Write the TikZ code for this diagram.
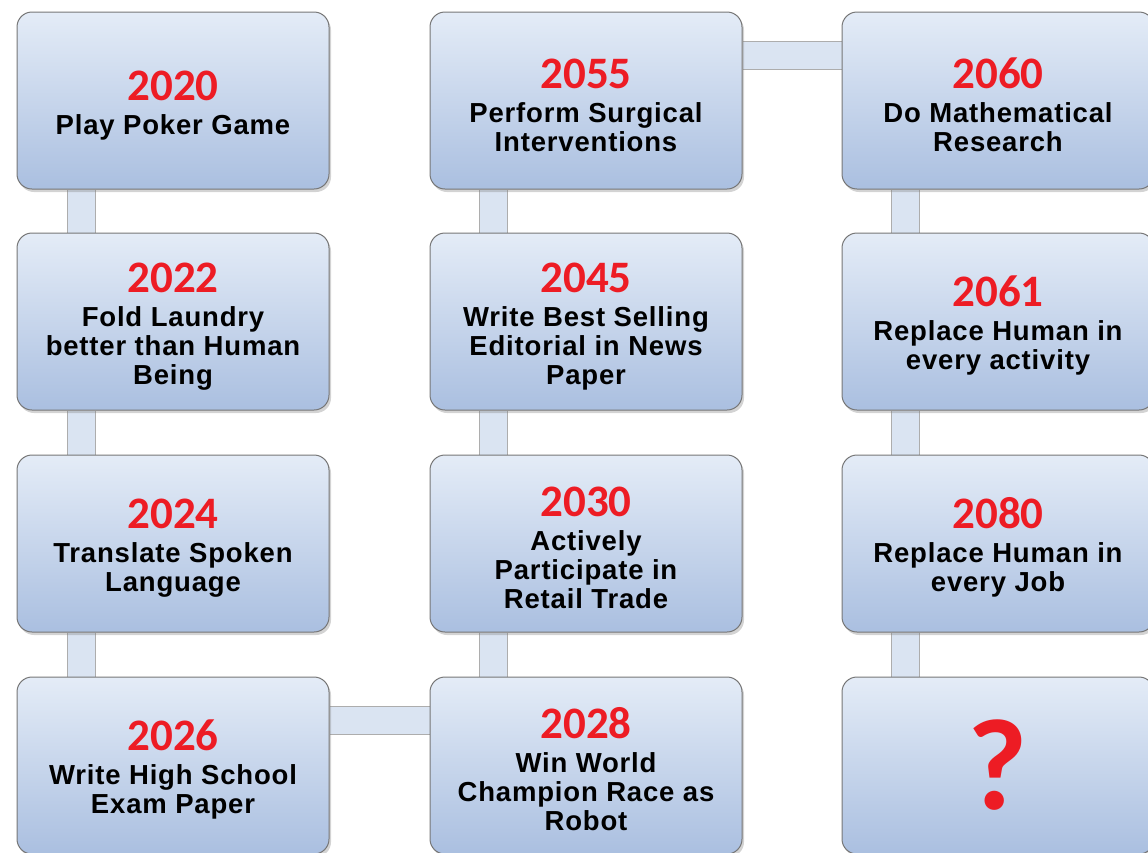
\documentclass[tikz,border=0pt]{standalone}
\usepackage{fontspec}
\setmainfont{Liberation Sans}[LetterSpace=3]
\newfontfamily\yearfont{Carlito}
\usetikzlibrary{shadows,backgrounds}
\definecolor{boxtop}{RGB}{228,236,247}
\definecolor{boxbottom}{RGB}{170,191,224}
\definecolor{boxedge}{RGB}{118,118,118}
\definecolor{barfill}{RGB}{218,228,242}
\definecolor{yearred}{RGB}{237,28,36}
\newcommand{\milestoneyear}[1]{{\rule{0pt}{39pt}\yearfont\fontsize{45}{45}\selectfont\color{yearred}#1}}
\tikzset{
  milestone/.style={draw=boxedge, line width=1pt, rounded corners=15pt,
    top color=boxtop, bottom color=boxbottom,
    minimum width=312pt, minimum height=177pt, align=center,
    font=\bfseries\fontsize{27.5}{29}\selectfont,
    drop shadow={opacity=.35, shadow xshift=2pt, shadow yshift=-3pt}},
  link/.style={draw=boxedge!60, line width=.8pt, double=barfill, double distance=27pt},
}
\begin{document}
\begin{tikzpicture}[x=1pt,y=-1pt]
\useasboundingbox (0,0) rectangle (1148,852);
\clip (0,0) rectangle (1148,852);
\node[milestone] (poker) at (173,100.5) {\milestoneyear{2020}\\[5pt] Play Poker Game};
\node[milestone] (laundry) at (173,321.5) {\milestoneyear{2022}\\[5pt] Fold Laundry\\ better than Human\\ Being};
\node[milestone] (translate) at (173,543.5) {\milestoneyear{2024}\\[5pt] Translate Spoken\\ Language};
\node[milestone] (exam) at (173,765.5) {\milestoneyear{2026}\\[5pt] Write High School\\ Exam Paper};

\node[milestone] (race) at (586,765.5) {\milestoneyear{2028}\\[5pt] Win World\\ Champion Race as\\ Robot};
\node[milestone] (retail) at (586,543.5) {\milestoneyear{2030}\\[5pt] Actively\\ Participate in\\ Retail Trade};
\node[milestone] (editorial) at (586,321.5) {\milestoneyear{2045}\\[5pt] Write Best Selling\\ Editorial in News\\ Paper};
\node[milestone] (surgery) at (586,100.5) {\milestoneyear{2055}\\[5pt] Perform Surgical\\ Interventions};

\node[milestone] (math) at (998,100.5) {\milestoneyear{2060}\\[5pt] Do Mathematical\\ Research};
\node[milestone] (activity) at (998,321.5) {\milestoneyear{2061}\\[5pt] Replace Human in\\ every activity};
\node[milestone] (job) at (998,543.5) {\milestoneyear{2080}\\[5pt] Replace Human in\\ every Job};
\node[milestone] (unknown) at (998,765.5) {\yearfont\fontsize{130}{130}\selectfont\color{yearred}?};

\begin{scope}[on background layer]
\draw[link] ([xshift=65pt]poker.south west) -- ([xshift=65pt]laundry.north west);
\draw[link] ([xshift=65pt]laundry.south west) -- ([xshift=65pt]translate.north west);
\draw[link] ([xshift=65pt]translate.south west) -- ([xshift=65pt]exam.north west);
\draw[link] ([yshift=-44pt]exam.north east) -- ([yshift=-44pt]race.north west);
\draw[link] ([xshift=64pt]race.north west) -- ([xshift=64pt]retail.south west);
\draw[link] ([xshift=64pt]retail.north west) -- ([xshift=64pt]editorial.south west);
\draw[link] ([xshift=64pt]editorial.north west) -- ([xshift=64pt]surgery.south west);
\draw[link] ([yshift=-44pt]surgery.north east) -- ([yshift=-44pt]math.north west);
\draw[link] ([xshift=64pt]math.south west) -- ([xshift=64pt]activity.north west);
\draw[link] ([xshift=64pt]activity.south west) -- ([xshift=64pt]job.north west);
\draw[link] ([xshift=64pt]job.south west) -- ([xshift=64pt]unknown.north west);
\end{scope}
\end{tikzpicture}
\end{document}
